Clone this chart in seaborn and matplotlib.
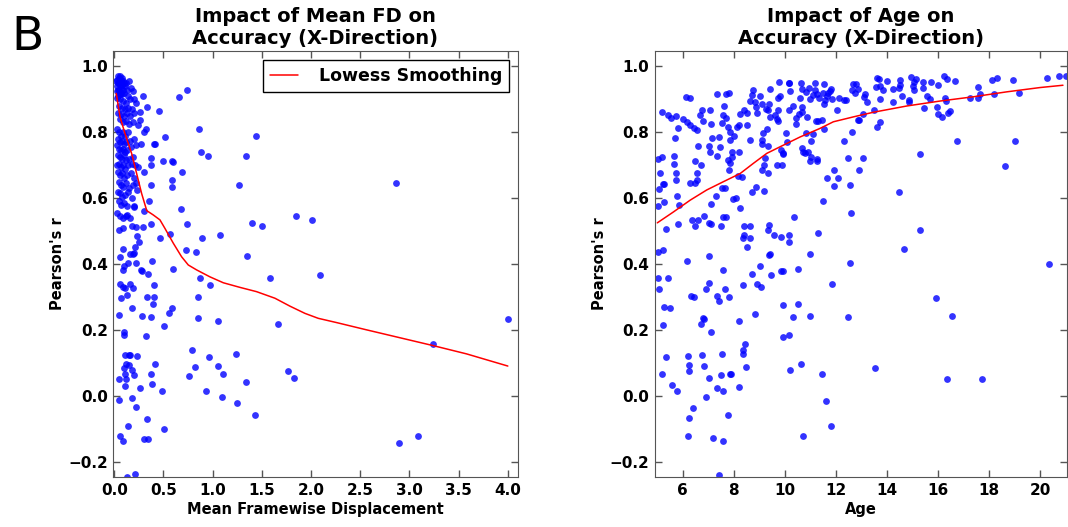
import matplotlib
matplotlib.use("Agg")
import matplotlib.pyplot as plt
import seaborn as sns
import pandas as pd

# ---------------- Data: left panel (Mean FD vs Pearson's r) ----------------
fd_x = [
    # dense upper blob
    0.03, 0.04, 0.05, 0.06, 0.07, 0.08, 0.05, 0.03, 0.06, 0.09, 0.10, 0.12, 0.15, 0.04, 0.07, 0.11,
    0.13, 0.17, 0.19, 0.05, 0.08, 0.10, 0.14, 0.20, 0.03, 0.06, 0.09, 0.12, 0.16, 0.22, 0.05, 0.08,
    0.11, 0.14, 0.18, 0.04, 0.07, 0.10, 0.13, 0.16, 0.20, 0.06, 0.09, 0.12, 0.15, 0.19,
    0.02, 0.04, 0.06, 0.08, 0.03, 0.05, 0.07, 0.09, 0.04, 0.06,
    # dense middle
    0.03, 0.05, 0.07, 0.09, 0.11, 0.14, 0.04, 0.06, 0.08, 0.10, 0.12, 0.16, 0.20, 0.03, 0.05, 0.07,
    0.09, 0.11, 0.13, 0.17, 0.22, 0.04, 0.06, 0.08, 0.10, 0.12, 0.15, 0.19, 0.03, 0.05, 0.07, 0.09,
    0.11, 0.14, 0.18, 0.21, 0.24,
    # lower middle
    0.04, 0.06, 0.08, 0.10, 0.13, 0.17, 0.20, 0.05, 0.07, 0.09, 0.12, 0.15, 0.19, 0.22, 0.04, 0.06,
    0.08, 0.11, 0.14, 0.18, 0.23, 0.05, 0.07, 0.10, 0.13, 0.20, 0.03, 0.06, 0.09, 0.12, 0.16,
    # dense lower
    0.047, 0.085, 0.125, 0.18, 0.217, 0.20, 0.227, 0.207, 0.163, 0.186, 0.203, 0.085, 0.058, 0.098,
    0.088, 0.139, 0.217, 0.058, 0.091, 0.112, 0.159, 0.186, 0.125, 0.064, 0.18, 0.047, 0.098, 0.095,
    0.112, 0.146, 0.16, 0.227, 0.119, 0.152, 0.098, 0.108, 0.176, 0.196, 0.047, 0.119, 0.112, 0.257,
    0.047, 0.18, 0.22, 0.135, 0.058, 0.091, 0.129, 0.213,
    # sparse
    0.457, 0.735, 0.657, 0.515, 0.40, 0.41, 0.495, 0.59, 0.595, 0.69, 0.59, 0.59, 0.37, 0.68, 0.74,
    0.37, 0.46, 0.565, 0.725, 0.83, 0.60, 0.38, 0.40, 0.40, 0.85, 0.874, 0.976, 0.894, 1.07, 0.864,
    0.877, 0.949, 1.27, 1.335, 1.436, 1.40, 1.497, 1.35, 1.58, 1.66, 1.85, 2.01, 2.09, 2.86, 4.0,
    3.24, 2.89, 3.09, 1.77, 1.83, 1.24, 1.34, 1.247, 1.43, 1.057, 1.057, 1.104, 1.098, 0.962, 0.928,
    0.79, 0.82, 0.76, 0.854, 0.583, 0.552, 0.508, 0.484, 0.51, 0.417, 0.373, 0.383, 0.33, 0.30,
    0.34, 0.32, 0.376, 0.28, 0.39, 0.33, 0.34, 0.35, 0.30, 0.30, 0.295, 0.254, 0.27, 0.28, 0.37,
    0.37, 0.268, 0.318, 0.30, 0.33, 0.29, 0.26, 0.26, 0.237,
]
fd_r = [
    0.96, 0.97, 0.965, 0.97, 0.96, 0.965, 0.95, 0.94, 0.945, 0.955, 0.95, 0.95, 0.955, 0.93, 0.935, 0.94,
    0.93, 0.935, 0.925, 0.92, 0.915, 0.92, 0.91, 0.90, 0.905, 0.90, 0.895, 0.89, 0.90, 0.89, 0.88, 0.875,
    0.87, 0.875, 0.87, 0.86, 0.855, 0.85, 0.86, 0.85, 0.86, 0.84, 0.83, 0.835, 0.825, 0.83,
    0.955, 0.95, 0.955, 0.945, 0.925, 0.93, 0.92, 0.93, 0.91, 0.915,
    0.81, 0.80, 0.79, 0.80, 0.79, 0.80, 0.78, 0.77, 0.775, 0.765, 0.77, 0.775, 0.78, 0.76, 0.75, 0.745,
    0.75, 0.74, 0.745, 0.755, 0.76, 0.73, 0.725, 0.72, 0.73, 0.715, 0.72, 0.725, 0.70, 0.705, 0.695, 0.70,
    0.69, 0.70, 0.705, 0.70, 0.695,
    0.68, 0.67, 0.675, 0.66, 0.67, 0.675, 0.66, 0.65, 0.64, 0.635, 0.645, 0.63, 0.64, 0.645, 0.62, 0.615,
    0.605, 0.61, 0.62, 0.60, 0.625, 0.59, 0.58, 0.585, 0.575, 0.575, 0.555, 0.545, 0.54, 0.545, 0.54,
    0.503, 0.51, 0.549, 0.516, 0.512, 0.574, 0.486, 0.453, 0.431, 0.43, 0.432, 0.447, 0.42, 0.394,
    0.381, 0.402, 0.403, 0.339, 0.329, 0.326, 0.34, 0.326, 0.305, 0.296, 0.265, 0.244, 0.193, 0.184,
    0.125, 0.125, 0.125, 0.122, 0.095, 0.094, 0.085, 0.067, 0.078, 0.064, 0.05, 0.051, 0.028, 0.024,
    -0.013, -0.008, -0.035, -0.091, -0.123, -0.138, -0.248, -0.239,
    0.865, 0.93, 0.906, 0.786, 0.764, 0.766, 0.713, 0.713, 0.71, 0.68, 0.655, 0.634, 0.64, 0.568, 0.52,
    0.52, 0.48, 0.49, 0.442, 0.437, 0.384, 0.41, 0.336, 0.30, 0.30, 0.356, 0.337, 0.48, 0.487, 0.81,
    0.74, 0.729, 0.64, 0.728, 0.79, 0.526, 0.516, 0.425, 0.357, 0.217, 0.547, 0.534, 0.366, 0.645, 0.232,
    0.157, -0.143, -0.123, 0.074, 0.054, 0.128, 0.042, -0.023, -0.059, 0.227, 0.09, 0.066, -0.005, 0.118, 0.014,
    0.14, 0.086, 0.06, 0.237, 0.267, 0.25, 0.213, 0.013, -0.10, 0.096, 0.065, 0.034, -0.07, -0.131,
    -0.131, 0.18, 0.24, 0.242, 0.28, 0.30, 0.37, 0.59, 0.562, 0.68, 0.513, 0.468, 0.382, 0.38, 0.723,
    0.70, 0.764, 0.81, 0.80, 0.877, 0.91, 0.862, 0.837, 0.822,
]
fd_lowess_x = [0.02, 0.058, 0.108, 0.176, 0.227, 0.278, 0.33, 0.396, 0.464, 0.515, 0.60, 0.684,
               0.752, 0.837, 0.972, 1.108, 1.277, 1.446, 1.633, 1.785, 1.938, 2.073, 2.26, 2.564,
               2.903, 3.242, 3.58, 4.0]
fd_lowess_r = [0.918, 0.847, 0.797, 0.736, 0.675, 0.614, 0.562, 0.549, 0.534, 0.508, 0.463, 0.422,
               0.397, 0.382, 0.361, 0.343, 0.329, 0.316, 0.296, 0.272, 0.25, 0.235, 0.222, 0.20,
               0.176, 0.152, 0.127, 0.09]

# ---------------- Data: right panel (Age vs Pearson's r) ----------------
age_x = [
    5.02, 5.09, 5.06, 5.02, 5.18, 5.24, 5.28, 5.19, 5.43, 5.53, 5.75, 5.27, 5.36, 5.01, 5.22, 5.01,
    5.43, 5.05, 5.26, 5.50, 5.22, 5.33, 5.19, 5.57, 5.76,
    5.67, 5.67, 5.69, 5.75, 5.75, 5.83, 5.76, 5.87, 5.80, 6.0, 6.16, 6.30, 6.42, 6.54, 6.12, 6.30,
    6.27, 6.46, 6.35, 6.60, 6.48, 6.48, 6.55, 6.55, 6.60, 6.69, 6.77, 6.73, 6.17, 6.31, 6.44, 6.21,
    6.26, 6.25, 6.38, 6.25, 6.20,
    6.81, 7.10, 7.07, 7.02, 7.08, 7.14, 7.33, 7.42, 7.46, 7.35, 7.68, 7.54, 7.61, 7.59, 7.70, 6.85,
    7.04, 7.10, 7.12, 7.29, 7.55, 7.66, 7.48, 7.58, 7.68, 7.03, 7.01, 6.90, 7.35, 7.41, 7.59, 7.66,
    6.78, 6.82, 6.71, 7.10, 6.74, 6.84, 7.03, 6.91, 7.35, 7.50, 7.57, 7.54, 7.19, 7.57, 7.42,
    7.80, 7.76, 7.85, 7.85, 7.92, 7.79, 7.83, 7.82, 7.92, 8.02, 8.12, 8.25, 8.19, 8.32, 8.21, 8.17,
    7.97, 8.10, 8.25, 8.40, 8.53, 8.51, 7.82, 7.84, 7.88, 7.79, 8.21, 8.22, 8.36, 8.35, 8.43, 8.48,
    8.36, 8.38, 8.36, 8.38,
    8.63, 8.63, 8.53, 8.72, 8.81, 8.90, 9.02, 9.07, 8.65, 8.70, 8.77, 8.82, 8.87, 8.90, 8.64, 9.03,
    9.10, 9.15, 9.10, 9.12, 9.12, 9.19, 9.23, 9.29, 9.28, 9.37, 9.41, 8.70, 8.87, 9.20, 9.34, 9.34,
    9.37, 9.34, 9.40, 9.38, 9.45, 9.34, 9.40, 9.62, 9.58, 9.70, 9.89, 9.84, 9.72, 9.70, 9.72, 9.74,
    9.79, 9.76, 9.84, 9.92, 9.94, 9.85, 9.93, 9.91, 9.91, 10.15, 10.18, 10.22, 10.15, 10.04, 10.09,
    10.17, 10.15, 10.18, 10.22, 10.30,
    10.30, 10.44, 10.45, 10.36, 10.53, 10.53, 10.60, 10.56, 10.64, 10.66, 10.66, 10.69, 10.69, 10.73,
    10.79, 10.82, 10.89, 10.82, 10.95, 10.99, 10.86, 11.03, 11.02, 10.99, 10.65, 10.72, 11.00, 10.99,
    11.09, 11.20, 11.20, 11.25, 11.32, 11.21, 11.29, 11.25, 11.26, 11.30, 11.09, 11.45, 11.51, 11.55,
    11.58, 11.54, 11.64, 11.69, 11.75, 11.80, 11.50, 11.54, 11.67, 11.84, 11.45, 11.60, 11.80, 11.93,
    11.93, 12.07, 12.03, 11.86, 12.11,
    12.32, 12.40, 12.31, 12.49, 12.56, 12.60, 12.56, 12.49, 12.62, 12.62, 12.69, 12.77, 12.75, 12.88,
    12.88, 12.91, 12.91, 13.05, 13.08, 13.11, 13.16, 13.20, 13.51, 13.54, 13.62, 13.71,
    13.58, 13.60, 13.69, 13.73, 13.73, 13.99, 13.84, 14.22, 14.22, 14.49, 14.50, 14.52, 14.48, 14.61,
    14.65, 14.87, 14.87, 14.95, 15.06,
    15.06, 15.04, 15.14, 15.30, 15.30, 15.40, 15.42, 15.44, 15.73, 15.59, 15.69, 15.93, 16.02, 15.98,
    15.99, 16.14, 16.25, 16.28, 16.31, 16.37, 16.40, 16.48, 16.37, 16.55, 16.67, 16.74,
    17.26, 17.56, 17.56, 17.65, 17.74, 18.13, 18.20, 18.33, 18.64, 18.96, 19.01, 19.19, 20.26, 20.35,
    20.75, 21.0,
]
age_r = [
    0.718, 0.677, 0.628, 0.577, 0.726, 0.642, 0.642, 0.861, 0.853, 0.842, 0.849, 0.589, 0.505, 0.436, 0.442, 0.357,
    0.357, 0.325, 0.268, 0.265, 0.214, 0.118, 0.066, 0.033, 0.015,
    0.727, 0.704, 0.784, 0.675, 0.655, 0.812, 0.606, 0.58, 0.52, 0.84, 0.831, 0.822, 0.814, 0.807, 0.906, 0.905,
    0.645, 0.645, 0.535, 0.534, 0.515, 0.713, 0.675, 0.655, 0.758, 0.854, 0.867, 0.702, 0.41, 0.304, 0.30, 0.122,
    0.094, 0.074, -0.036, -0.069, -0.123,
    0.835, 0.824, 0.867, 0.759, 0.741, 0.783, 0.729, 0.785, 0.754, 0.916, 0.917, 0.829, 0.88, 0.854, 0.844, 0.546,
    0.525, 0.521, 0.582, 0.606, 0.63, 0.632, 0.516, 0.544, 0.543, 0.425, 0.343, 0.325, 0.303, 0.288, 0.382, 0.325,
    0.235, 0.232, 0.217, 0.194, 0.125, 0.089, 0.054, -0.005, 0.023, 0.062, 0.014, 0.128, -0.13, -0.139, -0.24,
    0.92, 0.817, 0.80, 0.776, 0.741, 0.716, 0.707, 0.685, 0.726, 0.79, 0.817, 0.855, 0.822, 0.663, 0.741, 0.667,
    0.598, 0.60, 0.569, 0.867, 0.821, 0.86, 0.299, 0.065, 0.066, -0.058, 0.228, 0.027, 0.14, 0.128, 0.157, 0.087,
    0.337, 0.515, 0.48, 0.488,
    0.514, 0.479, 0.453, 0.369, 0.249, 0.338, 0.394, 0.329, 0.896, 0.912, 0.928, 0.892, 0.876, 0.859, 0.776, 0.91,
    0.886, 0.797, 0.776, 0.766, 0.685, 0.70, 0.722, 0.81, 0.87, 0.885, 0.931, 0.62, 0.633, 0.622, 0.867, 0.677,
    0.519, 0.503, 0.43, 0.427, 0.366, 0.759, 0.847, 0.852, 0.487, 0.70, 0.70, 0.482, 0.869, 0.84, 0.834, 0.903,
    0.91, 0.953, 0.745, 0.736, 0.733, 0.38, 0.38, 0.275, 0.178, 0.949, 0.951, 0.927, 0.869, 0.797, 0.771,
    0.488, 0.468, 0.184, 0.078, 0.238,
    0.88, 0.825, 0.842, 0.544, 0.384, 0.279, 0.905, 0.857, 0.95, 0.931, 0.878, 0.862, 0.752, 0.741,
    0.736, 0.797, 0.741, 0.923, 0.934, 0.901, 0.847, 0.774, 0.726, 0.713, 0.096, -0.124, 0.429, 0.242,
    0.913, 0.951, 0.93, 0.915, 0.903, 0.835, 0.835, 0.719, 0.713, 0.494, 0.796, 0.837, 0.92, 0.948,
    0.898, 0.886, 0.911, 0.92, 0.926, 0.933, 0.592, 0.809, 0.66, 0.339, 0.065, -0.015, -0.092, 0.687,
    0.638, 0.66, 0.867, 0.901, 0.905,
    0.898, 0.898, 0.773, 0.722, 0.64, 0.554, 0.404, 0.239, 0.802, 0.93, 0.948, 0.946, 0.919, 0.933,
    0.837, 0.837, 0.687, 0.855, 0.721, 0.908, 0.915, 0.891, 0.867, 0.084, 0.817, 0.83,
    0.938, 0.966, 0.962, 0.94, 0.901, 0.956, 0.93, 0.932, 0.891, 0.62, 0.959, 0.945, 0.936, 0.91,
    0.447, 0.898, 0.893, 0.967, 0.952,
    0.93, 0.94, 0.962, 0.733, 0.503, 0.953, 0.936, 0.873, 0.953, 0.91, 0.90, 0.296, 0.945, 0.878,
    0.855, 0.847, 0.971, 0.905, 0.896, 0.961, 0.86, 0.864, 0.05, 0.243, 0.955, 0.773,
    0.905, 0.938, 0.904, 0.915, 0.05, 0.958, 0.915, 0.966, 0.697, 0.958, 0.774, 0.919, 0.964, 0.401,
    0.971, 0.972,
]
age_lowess_x = [5.0, 5.63, 6.29, 6.94, 7.59, 8.25, 8.77, 9.29, 9.81, 10.6, 11.38, 11.9, 12.69,
                13.47, 14.78, 16.08, 17.39, 18.7, 20.0, 20.9]
age_lowess_r = [0.525, 0.558, 0.594, 0.625, 0.65, 0.675, 0.706, 0.736, 0.756, 0.786, 0.812, 0.832,
                0.847, 0.861, 0.88, 0.895, 0.908, 0.923, 0.936, 0.943]

# ---------------- Styling ----------------
sns.set_style("ticks", rc={
    "xtick.direction": "in", "ytick.direction": "in",
    "axes.edgecolor": "#555555", "axes.linewidth": 1.4,
    "text.color": "black", "axes.labelcolor": "black",
})
plt.rcParams["font.family"] = ["DejaVu Sans"]
plt.rcParams["font.weight"] = "bold"

fig = plt.figure(figsize=(10.68, 5.27), dpi=100)
ax1 = fig.add_axes([0.1061, 0.0949, 0.3786, 0.8083])
ax2 = fig.add_axes([0.6133, 0.0949, 0.3858, 0.8083])

df1 = pd.DataFrame({"fd": fd_x, "r": fd_r})
df1l = pd.DataFrame({"fd": fd_lowess_x, "r": fd_lowess_r})
df2 = pd.DataFrame({"age": age_x, "r": age_r})
df2l = pd.DataFrame({"age": age_lowess_x, "r": age_lowess_r})

sc_kw = dict(color="blue", alpha=0.8, s=24, linewidth=0, legend=False)
sns.scatterplot(data=df1, x="fd", y="r", ax=ax1, zorder=2, **sc_kw)
sns.lineplot(data=df1l, x="fd", y="r", ax=ax1, color="red", lw=1.1, estimator=None,
             zorder=3, label="Lowess Smoothing")
sns.scatterplot(data=df2, x="age", y="r", ax=ax2, zorder=2, **sc_kw)
sns.lineplot(data=df2l, x="age", y="r", ax=ax2, color="red", lw=1.1, estimator=None,
             zorder=3, legend=False)

ax1.set_xlim(-0.01, 4.1)
ax2.set_xlim(4.91, 21.06)
ax1.set_xticks([0.0, 0.5, 1.0, 1.5, 2.0, 2.5, 3.0, 3.5, 4.0])
ax2.set_xticks([6, 8, 10, 12, 14, 16, 18, 20])
for ax in (ax1, ax2):
    ax.set_ylim(-0.247, 1.047)
    ax.set_yticks([-0.2, 0.0, 0.2, 0.4, 0.6, 0.8, 1.0])
    ax.tick_params(axis="both", which="major", direction="in", length=5, width=1,
                   labelsize=11, pad=4, color="#555555", labelcolor="black",
                   top=True, right=True)
    for lab in ax.get_xticklabels() + ax.get_yticklabels():
        lab.set_fontweight("bold")
    ax.set_ylabel("Pearson's r", fontsize=10.5, fontweight="bold", labelpad=2, color="black")

ax1.set_xlabel("Mean Framewise Displacement", fontsize=10.5, fontweight="bold", labelpad=3,
               color="black")
ax2.set_xlabel("Age", fontsize=10.5, fontweight="bold", labelpad=3, color="black")
ax1.set_title("Impact of Mean FD on\nAccuracy (X-Direction)", fontsize=14, fontweight="bold",
              pad=5, color="black")
ax2.set_title("Impact of Age on\nAccuracy (X-Direction)", fontsize=14, fontweight="bold",
              pad=5, color="black")

leg = ax1.legend(loc="upper right", fancybox=False, frameon=True, handlelength=1.6,
                 handletextpad=1.2, borderaxespad=0.5, borderpad=0.4,
                 prop={"weight": "bold", "size": 12.5})
leg.get_frame().set_edgecolor("black")
leg.get_frame().set_linewidth(1.0)
leg.get_frame().set_alpha(1)
for t in leg.get_texts():
    t.set_color("black")

fig.text(0.011, 0.905, "B", fontsize=34, fontweight="normal", va="baseline", ha="left",
         color="black")

fig.savefig("out.png", dpi=100)
